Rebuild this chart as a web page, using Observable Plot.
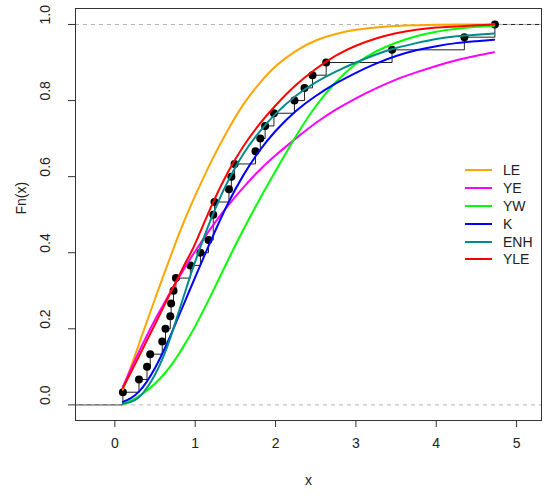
<!DOCTYPE html>
<html><head><meta charset="utf-8">
<script src="https://cdn.jsdelivr.net/npm/d3@7"></script>
<script src="https://cdn.jsdelivr.net/npm/@observablehq/plot@0.6"></script>
<style>
body{margin:0;background:#fff;font-family:"Liberation Sans",Arial,sans-serif;}
#wrap{position:relative;width:550px;height:496px;}
#legend{position:absolute;left:465px;top:161px;font-size:14px;color:#222;line-height:1;}
.row{height:17.9px;display:flex;align-items:center;}
.sw{width:27px;height:2px;margin-right:11px;}
</style></head><body><div id="wrap"><div id="legend"></div></div>
<script>
// tick labels
const xTicks = [0, 1, 2, 3, 4, 5];
const yTicks = [0, 0.2, 0.4, 0.6, 0.8, 1.0];

// observed sample (read from the ECDF points)
const obs = [0.10, 0.30, 0.40, 0.44, 0.59, 0.63, 0.69, 0.70, 0.73, 0.76, 0.94, 1.065, 1.165, 1.225, 1.225,
             1.24, 1.42, 1.45, 1.49, 1.75, 1.81, 1.87, 1.98, 2.235, 2.36, 2.46, 2.63, 3.45, 4.35, 4.73];

// fitted CDF curves, read at these x values
const xs  = [0.1, 0.2, 0.3, 0.4, 0.5, 0.6, 0.7, 0.8, 0.9, 1.0, 1.2, 1.4, 1.6, 1.8, 2.0, 2.25, 2.5, 2.75, 3.0, 3.25, 3.5, 3.75, 4.0, 4.25, 4.5, 4.72];
const LE  = [0.04, 0.10, 0.16, 0.22, 0.279, 0.337, 0.394, 0.45, 0.502, 0.55, 0.64, 0.72, 0.79, 0.845, 0.89, 0.93, 0.958, 0.975, 0.986, 0.992, 0.996, 0.998, 0.999, 1.0, 1.0, 1.0];
const YE  = [0.048, 0.095, 0.14, 0.183, 0.224, 0.262, 0.30, 0.336, 0.371, 0.404, 0.466, 0.522, 0.572, 0.617, 0.656, 0.70, 0.741, 0.776, 0.806, 0.832, 0.855, 0.874, 0.891, 0.906, 0.918, 0.927];
const YW  = [0.003, 0.011, 0.023, 0.038, 0.056, 0.078, 0.104, 0.135, 0.17, 0.207, 0.29, 0.377, 0.461, 0.54, 0.615, 0.705, 0.785, 0.848, 0.896, 0.929, 0.952, 0.969, 0.981, 0.989, 0.994, 0.997];
const K   = [0.008, 0.018, 0.035, 0.062, 0.097, 0.139, 0.186, 0.236, 0.286, 0.336, 0.434, 0.526, 0.604, 0.668, 0.72, 0.772, 0.812, 0.845, 0.873, 0.897, 0.917, 0.932, 0.943, 0.951, 0.956, 0.96];
const ENH = [0.003, 0.008, 0.02, 0.045, 0.08, 0.125, 0.182, 0.248, 0.314, 0.377, 0.49, 0.585, 0.66, 0.718, 0.765, 0.812, 0.848, 0.876, 0.90, 0.921, 0.938, 0.951, 0.962, 0.969, 0.973, 0.976];
const YLE = [0.045, 0.086, 0.128, 0.17, 0.212, 0.255, 0.298, 0.34, 0.382, 0.424, 0.522, 0.609, 0.68, 0.738, 0.787, 0.84, 0.883, 0.918, 0.944, 0.963, 0.977, 0.986, 0.992, 0.995, 0.998, 1.0];

const seriesNames = ["LE", "YE", "YW", "K", "ENH", "YLE"];
const seriesValues = [LE, YE, YW, K, ENH, YLE];
const seriesColors = ["#FFA500", "#FF00FF", "#00FF00", "#0000FF", "#008B8B", "#FF0000"];

const xDomain = [-0.49, 5.31];
const yDomain = [-0.041, 1.042];

// ECDF
const n = obs.length;
const uniq = Array.from(new Set(obs)).sort((a, b) => a - b);
const knots = uniq.map(v => ({x: v, y: obs.filter(o => o <= v).length / n}));
const stepData = [{x: xDomain[0], y: 0}, ...knots, {x: xDomain[1], y: 1}];

const curveMarks = seriesNames.map((name, i) =>
  Plot.line(xs.map((x, j) => ({x, y: seriesValues[i][j]})), {
    x: "x", y: "y", stroke: seriesColors[i], strokeWidth: 2, curve: "natural"
  })
);

const chart = Plot.plot({
  width: 550, height: 496,
  marginLeft: 75, marginRight: 9, marginTop: 8, marginBottom: 76,
  style: {fontFamily: "Liberation Sans, Arial, sans-serif", fontSize: "14px", color: "#222", background: "white"},
  x: {domain: xDomain},
  y: {domain: yDomain},
  marks: [
    Plot.axisX({ticks: xTicks, tickSize: 7, tickFormat: () => "", label: null, stroke: "#333"}),
    Plot.axisY({ticks: yTicks, tickSize: 7, tickFormat: () => "", label: null, stroke: "#333"}),
    Plot.text(xTicks, {x: d => d, text: d => String(d), frameAnchor: "bottom", dy: 27, fontSize: 14, fill: "#222"}),
    Plot.text(yTicks, {y: d => d, text: d => d.toFixed(1), frameAnchor: "left", dx: -30, rotate: -90, fontSize: 14, fill: "#222"}),
    Plot.text(["Fn(x)"], {text: d => d, frameAnchor: "left", dx: -54, rotate: -90, fontSize: 14, fill: "#222"}),
    Plot.text(["x"], {text: d => d, frameAnchor: "bottom", dy: 64, fontSize: 14, fill: "#222"}),
    Plot.line(stepData, {x: "x", y: "y", curve: "step-after", stroke: "#222", strokeWidth: 1}),
    Plot.dot(knots, {x: "x", y: "y", r: 4, fill: "black"}),
    Plot.ruleY([0, 1], {stroke: "#b3b3b3", strokeDasharray: "4,4"}),
    ...curveMarks,
    Plot.frame({stroke: "#333"})
  ]
});
const wrap = document.getElementById("wrap");
wrap.insertBefore(chart, wrap.firstChild);

const legend = document.getElementById("legend");
seriesNames.forEach((name, i) => {
  const row = document.createElement("div");
  row.className = "row";
  const sw = document.createElement("span");
  sw.className = "sw";
  sw.style.background = seriesColors[i];
  const t = document.createElement("span");
  t.textContent = name;
  row.appendChild(sw); row.appendChild(t);
  legend.appendChild(row);
});
</script></body></html>
